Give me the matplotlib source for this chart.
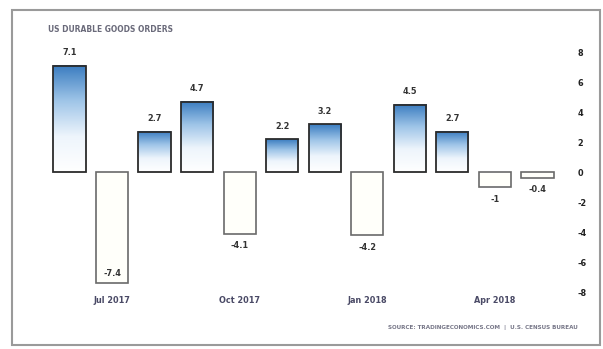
import numpy as np
import matplotlib
matplotlib.use("Agg")
import matplotlib.pyplot as plt
from matplotlib.colors import LinearSegmentedColormap
from matplotlib.patches import Rectangle

# monthly change in US durable goods orders, Jun 2017 - May 2018 (%)
months = ["Jun 2017", "Jul 2017", "Aug 2017", "Sep 2017", "Oct 2017", "Nov 2017",
          "Dec 2017", "Jan 2018", "Feb 2018", "Mar 2018", "Apr 2018", "May 2018"]
values = [7.1, -7.4, 2.7, 4.7, -4.1, 2.2, 3.2, -4.2, 4.5, 2.7, -1.0, -0.4]
tick_months = ["Jul 2017", "Oct 2017", "Jan 2018", "Apr 2018"]
y_ticks = [8, 6, 4, 2, 0, -2, -4, -6, -8]

W, H = 603, 349
fig = plt.figure(figsize=(W / 100, H / 100), dpi=100)
fig.patch.set_facecolor("white")

def px_box(left, top, right, bottom):
    return [left / W, 1 - bottom / H, (right - left) / W, (bottom - top) / H]

ax = fig.add_axes(px_box(30, 40, 565, 304))
ax.set_xlim(-0.93, 11.65)
ax.set_ylim(-8.8, 8.8)

font = dict(family="DejaVu Sans", fontstretch="condensed")
blue_fade = LinearSegmentedColormap.from_list("fade", ["#ffffff", "#eef5fc", "#9fc5e8", "#3a7cc0"])
grad = np.linspace(0, 1, 256).reshape(-1, 1)
width = 0.76

x = np.arange(len(values))
for i, v in zip(x, values):
    if v > 0:
        ax.imshow(grad, cmap=blue_fade, origin="lower", aspect="auto",
                  extent=[i - width / 2, i + width / 2, 0, v], zorder=2)
        ax.add_patch(Rectangle((i - width / 2, 0), width, v, fill=False,
                               edgecolor="#2b2b2b", lw=1.3, zorder=3))
        ax.text(i, v + 0.55, f"{v:g}", ha="center", va="bottom", fontsize=6.5,
                fontweight="bold", color="#333333", **font)
    else:
        ax.bar(i, v, width=width, color="#fffffa", edgecolor="#6a6a6a", lw=1.2, zorder=2)
        if v < -6:
            ty, va = v + 0.35, "bottom"
        else:
            ty, va = v - 0.5, "top"
        ax.text(i, ty, f"{v:g}", ha="center", va=va, fontsize=6.5,
                fontweight="bold", color="#333333", **font)

ax.set_xticks([months.index(m) for m in tick_months])
ax.set_xticklabels(tick_months, fontsize=6.5, color="#4a4a66", fontweight="bold", **font)
ax.yaxis.tick_right()
ax.set_yticks(y_ticks)
ax.set_yticklabels([str(t) for t in y_ticks], fontsize=6.5, fontweight="bold",
                   color="#222222", **font)
ax.tick_params(axis="both", length=0)
ax.tick_params(axis="x", pad=-6)
ax.tick_params(axis="y", pad=9)
for s in ax.spines.values():
    s.set_visible(False)
ax.set_facecolor("none")

# outer frame
fig.patches.append(Rectangle((12 / W, 1 - 345 / H), 588 / W, 335 / H, transform=fig.transFigure,
                             fill=False, edgecolor="#9a9a9a", lw=1.5))

fig.text(48 / W, 1 - 29 / H, "US DURABLE GOODS ORDERS", fontsize=6, fontweight="bold",
         color="#6a6a7a", va="center", **font)
fig.text(578 / W, 1 - 327 / H, "SOURCE: TRADINGECONOMICS.COM  |  U.S. CENSUS BUREAU",
         fontsize=4.5, fontweight="bold", color="#777788", va="center", ha="right", **font)

fig.savefig("out.png", dpi=100)
